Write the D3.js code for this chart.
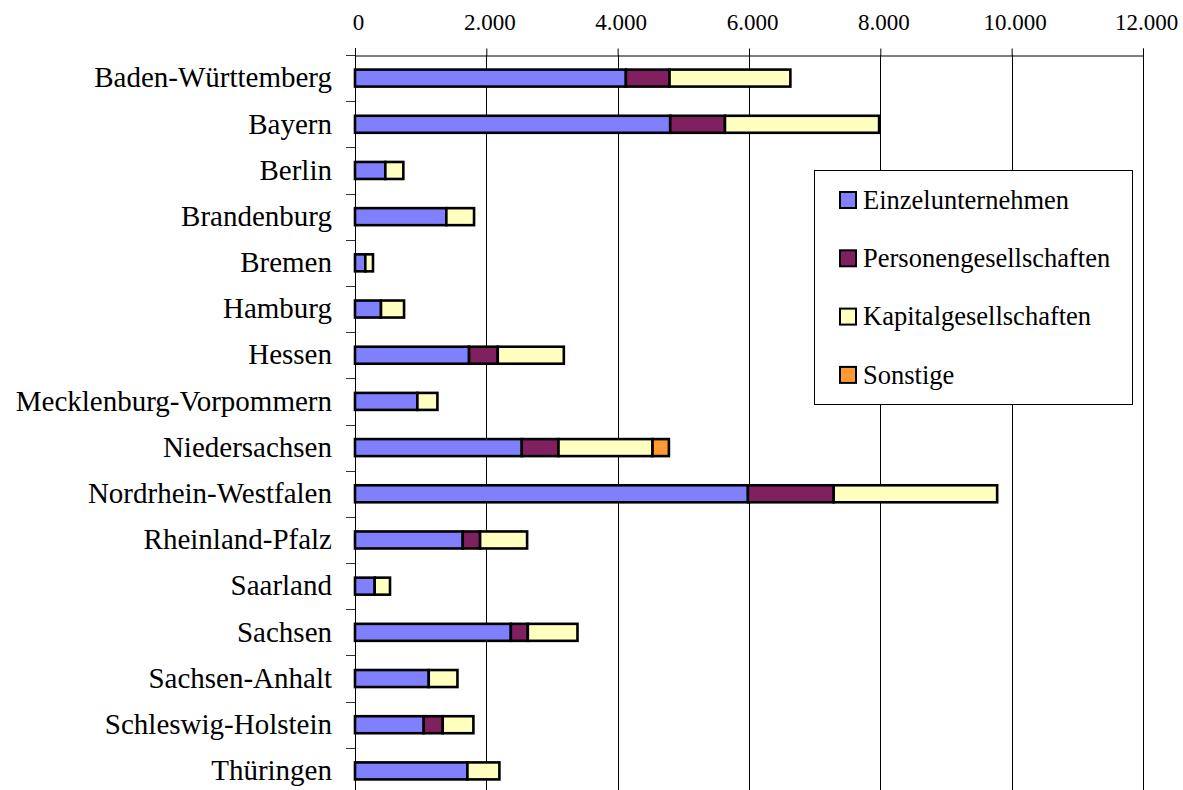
<!DOCTYPE html>
<html lang="de">
<head>
<meta charset="utf-8">
<title>Unternehmen nach Rechtsform und Bundesland</title>
<script src="https://d3js.org/d3.v7.min.js"></script>
<style>
  body { margin: 0; background: #fff; }
  text { font-family: "Liberation Serif", "Times New Roman", serif; fill: #000; }
</style>
</head>
<body>
<script>
// data
var states = ["Baden-Württemberg", "Bayern", "Berlin", "Brandenburg", "Bremen", "Hamburg",
  "Hessen", "Mecklenburg-Vorpommern", "Niedersachsen", "Nordrhein-Westfalen",
  "Rheinland-Pfalz", "Saarland", "Sachsen", "Sachsen-Anhalt", "Schleswig-Holstein", "Thüringen"];
var einzel   = [4125, 4800, 462, 1391, 157, 396, 1737, 950, 2540, 5984, 1641, 300, 2373, 1123, 1047, 1712];
var personen = [665, 834, 0, 0, 0, 0, 437, 0, 559, 1306, 264, 0, 259, 0, 289, 0];
var kapital  = [1840, 2347, 274, 422, 117, 351, 1006, 305, 1432, 2489, 716, 233, 756, 437, 467, 487];
var sonstige = [0, 0, 0, 0, 0, 0, 0, 0, 249, 0, 0, 0, 0, 0, 0, 0];
var seriesNames = ["Einzelunternehmen", "Personengesellschaften", "Kapitalgesellschaften", "Sonstige"];
var xTicks = [0, 2000, 4000, 6000, 8000, 10000, 12000];

var colors = ["#8080ff", "#802060", "#ffffc0", "#ff9933"];

var width = 1183, height = 790;
var plotL = 355, plotR = 1143, plotT = 55, plotB = 794;

var rows = states.map(function(s, i) {
  return { state: s, s0: einzel[i], s1: personen[i], s2: kapital[i], s3: sonstige[i] };
});

var stack = d3.stack().keys(["s0", "s1", "s2", "s3"]);
var layers = stack(rows);

var x = d3.scaleLinear().domain([0, 12000]).range([plotL, plotR]);
var y = d3.scaleBand().domain(states).range([plotT, plotB]);
var barH = 17;

var svg = d3.select("body").append("svg")
  .attr("width", width)
  .attr("height", height);

// vertical gridlines
svg.append("g")
  .selectAll("line")
  .data(xTicks.slice(1))
  .enter().append("line")
  .attr("x1", function(d) { return Math.round(x(d)) + 0.5; })
  .attr("x2", function(d) { return Math.round(x(d)) + 0.5; })
  .attr("y1", plotT)
  .attr("y2", plotB)
  .attr("stroke", "#000")
  .attr("stroke-width", 1);

// bars
svg.append("g")
  .selectAll("g")
  .data(layers)
  .enter().append("g")
  .attr("fill", function(d, i) { return colors[i]; })
  .selectAll("rect")
  .data(function(d) { return d.filter(function(v) { return v[1] - v[0] > 0; }); })
  .enter().append("rect")
  .attr("x", function(d) { return x(d[0]); })
  .attr("y", function(d) { return y(d.data.state) + y.bandwidth() / 2 - barH / 2; })
  .attr("width", function(d) { return x(d[1]) - x(d[0]); })
  .attr("height", barH)
  .attr("stroke", "#000")
  .attr("stroke-width", 2.6);

// top axis
var xAxis = d3.axisTop(x)
  .tickValues(xTicks)
  .tickSize(7)
  .tickPadding(4)
  .tickFormat(function(d) { return d3.format(",")(d).replace(/,/g, "."); });

var gx = svg.append("g")
  .attr("transform", "translate(0," + (plotT + 0.5) + ")")
  .call(xAxis);
gx.attr("font-family", null).attr("font-size", null);
gx.select(".domain").attr("stroke", "#000");
gx.selectAll(".tick line").attr("stroke", "#000");
gx.selectAll(".tick text")
  .style("font-family", "'Liberation Serif', 'Times New Roman', serif")
  .style("font-size", "23px")
  .attr("dx", 3)
  .attr("y", -26);

// left axis: line plus ticks at category boundaries
svg.append("line")
  .attr("x1", plotL + 0.5).attr("x2", plotL + 0.5)
  .attr("y1", plotT - 7).attr("y2", plotB)
  .attr("stroke", "#000");

var bounds = d3.range(states.length).map(function(i) { return y(states[i]); });
svg.append("g")
  .selectAll("line")
  .data(bounds)
  .enter().append("line")
  .attr("x1", plotL - 9)
  .attr("x2", plotL)
  .attr("y1", function(d) { return Math.round(d) + 0.5; })
  .attr("y2", function(d) { return Math.round(d) + 0.5; })
  .attr("stroke", "#333");

svg.append("g")
  .selectAll("text")
  .data(states)
  .enter().append("text")
  .attr("x", 332)
  .attr("y", function(d) { return y(d) + y.bandwidth() / 2; })
  .attr("dy", "0.32em")
  .attr("text-anchor", "end")
  .attr("font-size", 29)
  .text(function(d) { return d; });

// legend
var legend = svg.append("g");
legend.append("rect")
  .attr("x", 814.5).attr("y", 170.5)
  .attr("width", 318).attr("height", 234)
  .attr("fill", "#fff")
  .attr("stroke", "#000")
  .attr("stroke-width", 1);

var item = legend.selectAll("g.item")
  .data(seriesNames)
  .enter().append("g")
  .attr("class", "item")
  .attr("transform", function(d, i) { return "translate(840," + (200 + i * 58.3) + ")"; });

item.append("rect")
  .attr("x", 0).attr("y", -8)
  .attr("width", 16).attr("height", 16)
  .attr("fill", function(d, i) { return colors[i]; })
  .attr("stroke", "#000")
  .attr("stroke-width", 2);

item.append("text")
  .attr("x", 23)
  .attr("dy", "0.33em")
  .attr("font-size", 26.5)
  .text(function(d) { return d; });
</script>
</body>
</html>
